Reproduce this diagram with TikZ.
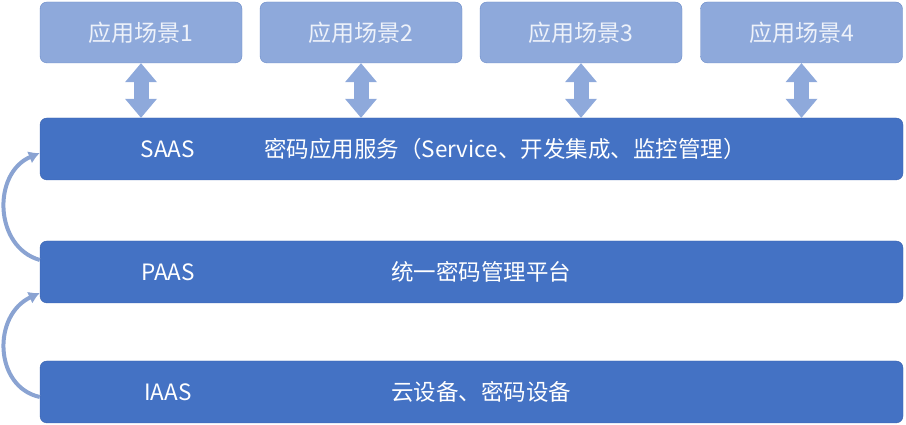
\documentclass[tikz,border=0pt]{standalone}
\usepackage{fontspec}
\setmainfont{Noto Sans CJK SC}
\usetikzlibrary{arrows.meta,positioning,calc}
\definecolor{deep}{HTML}{4472C4}
\definecolor{deepline}{HTML}{3A62AE}
\definecolor{soft}{HTML}{8EA9DB}
\definecolor{softline}{HTML}{6A8BC8}
\definecolor{softtext}{HTML}{EEF2FA}
\definecolor{curve}{HTML}{8AA3D2}

\begin{document}
\begin{tikzpicture}[x=1pt,y=1pt,
  scene/.style={draw=softline,rounded corners=7pt,fill=soft,minimum width=202pt,
    minimum height=61pt,inner sep=0pt,text=softtext,font=\fontsize{23}{26}\selectfont},
  layer/.style={draw=deepline,rounded corners=7pt,fill=deep,minimum width=863pt,
    minimum height=62pt,inner sep=0pt},
  lbl/.style={text=white,font=\fontsize{22.5}{26}\selectfont},
  dbl/.style={draw=soft,line width=15pt,
    {Triangle[length=19pt,width=32pt,line width=0pt]}-{Triangle[length=19pt,width=32pt,line width=0pt]}},
  lift/.style={draw=curve,line width=4pt,-{Latex[length=11pt,width=13pt]}}]
\useasboundingbox (0,0) rectangle (906,425);
% top row
\node[scene] (s1) at (141,392.5) {应用场景1};
\node[scene] (s2) at (361,392.5) {应用场景2};
\node[scene] (s3) at (581,392.5) {应用场景3};
\node[scene] (s4) at (801.5,392.5) {应用场景4};
% layers
\node[layer] (saas) at (471.5,276) {};
\node[layer] (paas) at (471.5,153) {};
\node[layer] (iaas) at (471.5,33) {};
\node[lbl] at (168,276) {SAAS};
\node[lbl] at (505,276) {密码应用服务（Service、开发集成、监控管理）};
\node[lbl] at (168,153) {PAAS};
\node[lbl] at (481,153) {统一密码管理平台};
\node[lbl] at (168,33) {IAAS};
\node[lbl] at (481,33) {云设备、密码设备};
% arrows
\foreach \s in {s1,s2,s3,s4}
  \draw[dbl] (\s.south) -- (\s.south |- saas.north);
\draw[lift] ([yshift=12pt]paas.west) .. controls (-6,178) and (-8,252) .. ([yshift=-4pt]saas.west);
\draw[lift] ([yshift=-5pt]iaas.west) .. controls (-6,38) and (-8,110) .. ([yshift=-21pt]paas.west);
\end{tikzpicture}
\end{document}
